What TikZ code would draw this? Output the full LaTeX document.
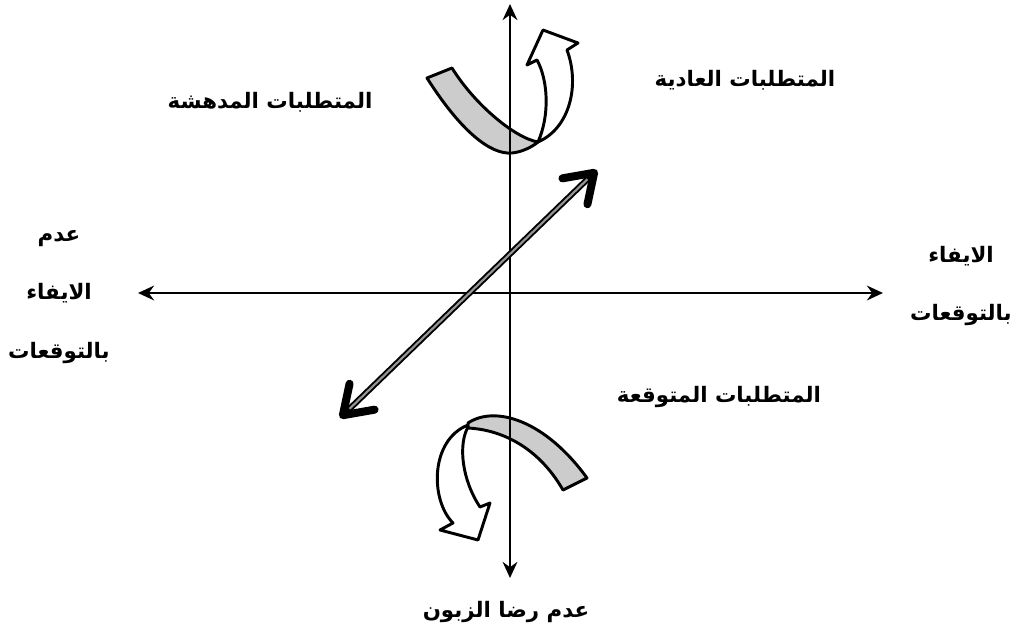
\documentclass[tikz,border=0pt]{standalone}
\usepackage{fontspec}
\usepackage{tikz}
\usetikzlibrary{arrows.meta, positioning}
\newfontfamily\arabicfont[Script=Arabic]{DejaVu Sans}
\TeXXeTstate=1
\definecolor{bandgray}{RGB}{204, 204, 204}
\definecolor{shaftgray}{RGB}{150, 150, 150}
\tikzset{
    axisline/.style={line width=2.1pt, {Stealth[length=12pt, width=11pt]}-{Stealth[length=12pt, width=11pt]}},
    ribbon/.style={line width=2.2pt, line join=round, fill=bandgray},
    turnarrow/.style={line width=2.2pt, line join=round, fill=white},
    arlabel/.style={font=\arabicfont\bfseries\fontsize{16}{44}\selectfont, inner sep=0pt, align=center}
}

\begin{document}
\begin{tikzpicture}[x=0.75pt, y=-0.75pt, >=Stealth]
    \useasboundingbox (0,0) rectangle (1018,635);
    % axis end points
    \coordinate (yTop) at (510,4);
    \coordinate (yBottom) at (510,578);
    \coordinate (xLeft) at (138,293);
    \coordinate (xRight) at (883,293);
    \coordinate (diagLow) at (340,418);
    \coordinate (diagHigh) at (597,170);
    % upper turning ribbon
    \draw[ribbon] (427,78) .. controls (460,130) and (490,155) .. (512,153)
        .. controls (522,152) and (532,147) .. (538,142)
        .. controls (515,138) and (475,105) .. (452,68) -- cycle;
    \draw[turnarrow] (538,142) .. controls (570,128) and (580,85) .. (567,50)
        -- (578,43) -- (543,30) -- (527,65) -- (537,60)
        .. controls (548,80) and (550,115) .. (538,142) -- cycle;
    % lower turning ribbon
    \draw[ribbon] (468,423) .. controls (495,405) and (545,420) .. (587,478)
        -- (563,490) .. controls (540,450) and (505,430) .. (468,428) -- cycle;
    \draw[turnarrow] (468,425) .. controls (430,440) and (430,500) .. (453,523)
        -- (440,530) -- (478,540) -- (490,503) -- (480,507)
        .. controls (462,480) and (458,445) .. (468,427) -- cycle;
    % axes
    \draw[axisline] (yBottom) -- (yTop);
    \draw[axisline] (xLeft) -- (xRight);
    % diagonal double arrow
    \draw[line width=4.5pt, {Straight Barb[length=20pt, width=27pt, line width=6pt, round]}-{Straight Barb[length=20pt, width=27pt, line width=6pt, round]}] (diagLow) -- (diagHigh);
    \draw[shaftgray, line width=1.6pt, shorten <=10pt, shorten >=10pt] (diagLow) -- (diagHigh);
    % labels
    \node[arlabel] (surprising) at (270,102) {\beginR المتطلبات المدهشة\endR};
    \node[arlabel] (normal) at (745,80) {\beginR المتطلبات العادية\endR};
    \node[arlabel] (expected) at (719,397) {\beginR المتطلبات المتوقعة\endR};
    \node[arlabel] (dissatisfied) at (506,612) {\beginR عدم رضا الزبون\endR};
    \node[arlabel] (notMet) at (59,297) {\beginR عدم\endR\\\beginR الايفاء\endR\\\beginR بالتوقعات\endR};
    \node[arlabel] (met) at (961,286) {\beginR الايفاء\endR\\\beginR بالتوقعات\endR};
\end{tikzpicture}
\end{document}
